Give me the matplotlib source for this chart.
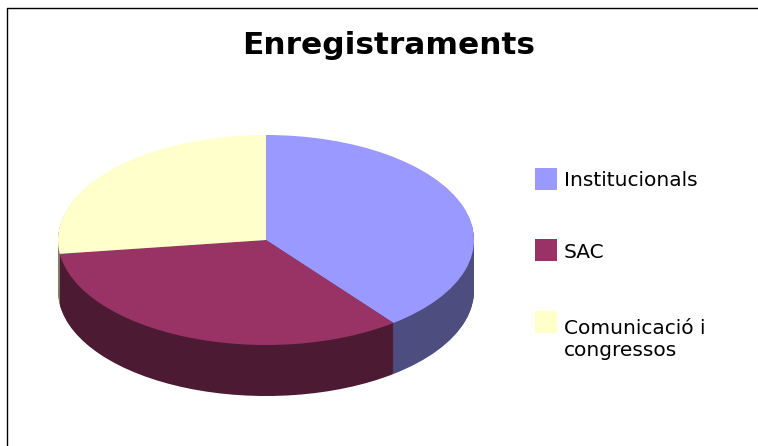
# Enregistraments - pie chart amb efecte 3D
import matplotlib
matplotlib.use('Agg')
import matplotlib.pyplot as plt
from matplotlib.lines import Line2D
from matplotlib.patches import Rectangle

labels = ['Institucionals', 'SAC', 'Comunicació i\ncongressos']
values = [39.5, 33.4, 27.1]
top_colors = ['#9999FF', '#993366', '#FFFFCC']
side_colors = ['#4D4D80', '#4D1A33', '#808066']

W, H = 758, 446
fig = plt.figure(figsize=(W / 100, H / 100), dpi=100, facecolor='white')

# pie box in pixels, y from the top of the image
ax = fig.add_axes([58 / W, (H - 345) / H, 416 / W, 210 / H])

# side of the pie: same pie repeated going down, then the top one
depth = 51 / 105
layers = 60
for i in range(layers, 0, -1):
	ax.pie(values, colors=side_colors, startangle=90, counterclock=False,
		   center=(0, -depth * i / layers), radius=1, frame=True,
		   wedgeprops={'linewidth': 0, 'clip_on': False})
ax.pie(values, colors=top_colors, startangle=90, counterclock=False,
	   center=(0, 0), radius=1, frame=True,
	   wedgeprops={'linewidth': 0, 'clip_on': False})
ax.set_aspect('auto')
ax.set_xlim(-1, 1)
ax.set_ylim(-1, 1)
ax.axis('off')

# border, only left and top are visible
fig.add_artist(Line2D([7 / W, 7 / W, 1], [0, (H - 8) / H, (H - 8) / H],
					  color='black', lw=1.0))

fig.text(389 / W, (H - 45) / H, 'Enregistraments', ha='center', va='center',
		 fontsize=22.5, fontweight='bold', family='DejaVu Sans', color='black')

# legend
swatch_top = [168, 239, 311]
text_y = [180, 252, 340]
for i in range(len(labels)):
	fig.add_artist(Rectangle((535 / W, (H - swatch_top[i] - 22) / H), 22 / W, 22 / H,
							 transform=fig.transFigure, facecolor=top_colors[i],
							 edgecolor='none'))
	fig.text(564 / W, (H - text_y[i]) / H, labels[i], ha='left', va='center',
			 fontsize=14.5, family='DejaVu Sans', color='black', linespacing=1.2)

fig.savefig('out.png', dpi=100)
